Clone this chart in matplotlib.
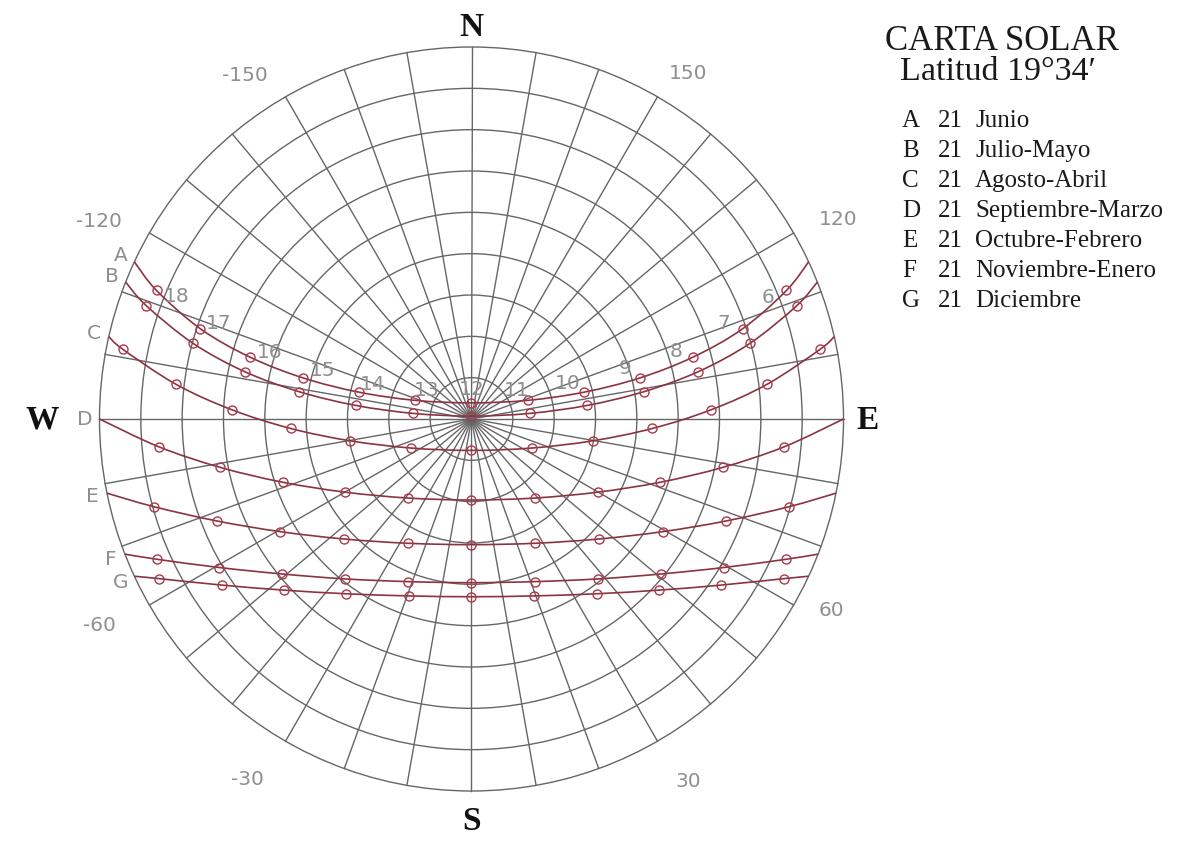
import numpy as np
import matplotlib
matplotlib.use("Agg")
import matplotlib.pyplot as plt
from matplotlib.path import Path
from matplotlib.patches import PathPatch, Circle

# ---------------- data (azimuth from south, + toward east; altitude in deg) -------------
hours = [6, 7, 8, 9, 10, 11, 12, 13, 14, 15, 16, 17, 18]
hours_short = [7, 8, 9, 10, 11, 12, 13, 14, 15, 16, 17]

curve_labels = ["A", "B", "C", "D", "E", "F", "G"]
legend_dates = ["Junio", "Julio-Mayo", "Agosto-Abril", "Septiembre-Marzo",
                "Octubre-Febrero", "Noviembre-Enero", "Diciembre"]

A_az = [112.2, 108.4, 105.6, 103.7, 103.4, 108.2, 180.0, -108.2, -103.4, -103.7, -105.6, -108.4, -112.2]
A_alt = [7.7, 20.9, 34.4, 48.1, 61.9, 75.5, 86.1, 75.5, 61.9, 48.1, 34.4, 20.9, 7.7]

B_az = [109.2, 105.2, 101.8, 99.0, 96.7, 95.5, 180.0, -95.5, -96.7, -99.0, -101.8, -105.2, -109.2]
B_alt = [6.7, 20.2, 33.9, 47.8, 61.8, 75.9, 89.3, 75.9, 61.8, 47.8, 33.9, 20.2, 6.7]

C_az = [101.3, 96.7, 92.2, 87.0, 79.8, 64.5, 0.0, -64.5, -79.8, -87.0, -92.2, -96.7, -101.3]
C_alt = [4.0, 18.0, 32.0, 46.2, 60.2, 73.7, 82.4, 73.7, 60.2, 46.2, 32.0, 18.0, 4.0]

D_az = [84.9, 79.1, 71.5, 59.9, 38.7, 0.0, -38.7, -59.9, -71.5, -79.1, -84.9]
D_alt = [14.1, 28.1, 41.8, 54.7, 65.5, 70.4, 65.5, 54.7, 41.8, 28.1, 14.1]

E_az = [74.6, 68.2, 59.5, 46.8, 27.2, 0.0, -27.2, -46.8, -59.5, -68.2, -74.6]
E_alt = [10.2, 23.6, 36.3, 47.6, 56.2, 59.6, 56.2, 47.6, 36.3, 23.6, 10.2]

F_az = [66.0, 59.5, 50.7, 38.3, 21.2, 0.0, -21.2, -38.3, -50.7, -59.5, -66.0]
F_alt = [6.6, 19.2, 30.8, 40.7, 47.8, 50.4, 47.8, 40.7, 30.8, 19.2, 6.6]

G_az = [62.9, 56.4, 47.6, 35.6, 19.5, 0.0, -19.5, -35.6, -47.6, -56.4, -62.9]
G_alt = [5.2, 17.4, 28.6, 38.0, 44.6, 47.0, 44.6, 38.0, 28.6, 17.4, 5.2]

# azimuth of sunrise (east) and sunset (west) on the horizon
sunrise_az = [115.0, 111.6, 102.8, 90.0, 78.5, 68.7, 65.0]
sunset_az = [-115.0, -111.6, -102.8, -90.0, -78.5, -68.7, -65.0]

ring_altitudes = [0, 10, 20, 30, 40, 50, 60, 70, 80]
radial_azimuths = list(range(0, 360, 10))
az_tick_labels = ["-150", "150", "-120", "120", "-60", "60", "-30", "30"]

curves_az = [A_az, B_az, C_az, D_az, E_az, F_az, G_az]
curves_alt = [A_alt, B_alt, C_alt, D_alt, E_alt, F_alt, G_alt]

# ---------------- figure / geometry ----------------
W, H = 1178, 852
fig = plt.figure(figsize=(W / 100, H / 100), dpi=100)
fig.patch.set_facecolor("white")
ax = fig.add_axes([0, 0, 1, 1])
cx_px, cy_px, R_px = 471.5, 419.0, 372.0
s = R_px / 90.0
ax.set_xlim(-cx_px / s, (W - cx_px) / s)
ax.set_ylim(-(H - cy_px) / s, cy_px / s)
ax.axis("off")


def proj(az, alt):
    a = np.radians(np.asarray(az, dtype=float))
    r = 90.0 - np.asarray(alt, dtype=float)
    return r * np.sin(a), -r * np.cos(a)


def polar_xy(az, r):
    a = np.radians(az)
    return r * np.sin(a), -r * np.cos(a)


def smooth_path(x, y):
    P = np.column_stack([x, y])
    n = len(P)
    verts = [P[0]]
    codes = [Path.MOVETO]
    for i in range(n - 1):
        p0 = P[i - 1] if i > 0 else P[i]
        p1 = P[i]
        p2 = P[i + 1]
        p3 = P[i + 2] if i + 2 < n else P[i + 1]
        verts += [p1 + (p2 - p0) / 6.0, p2 - (p3 - p1) / 6.0, p2]
        codes += [Path.CURVE4] * 3
    return Path(verts, codes)


grid_c = "#666666"
line_c = "#8a3442"
mark_c = "#a83a4a"
label_c = "#8f8f8f"

# grid rings
for alt in ring_altitudes:
    ax.add_patch(Circle((0, 0), 90 - alt, fill=False, ec=grid_c, lw=1.0, zorder=1))
# radial lines
for a in radial_azimuths:
    x, y = proj(a, 0)
    ax.plot([0, x], [0, y], color=grid_c, lw=1.0, zorder=1)

# sun paths
for i in range(7):
    hx, hy = proj(curves_az[i], curves_alt[i])
    rx, ry = proj(sunrise_az[i], 0)
    sx, sy = proj(sunset_az[i], 0)
    xs = np.concatenate([[rx], hx, [sx]])
    ys = np.concatenate([[ry], hy, [sy]])
    ax.add_patch(PathPatch(smooth_path(xs, ys), fill=False, ec=line_c, lw=1.2, zorder=3))
    ax.plot(hx, hy, "o", mfc="none", mec=mark_c, ms=6.5, mew=1.0, zorder=4)
    # curve letter at sunset
    lx, ly = polar_xy(sunset_az[i], 93.6)
    ax.text(lx, ly, curve_labels[i], ha="center", va="center", fontsize=14.5,
            color=label_c, family="DejaVu Sans", zorder=5)

# hour labels near curve A
hx, hy = proj(A_az, A_alt)
dx_off = [-18, -19, -17, -15, -17, -12, 0, 12, 14, 19, 19, 18, 20]
dy_off = [7, -5, -6, -9, -9, -10, -13, -10, -8, -7, -5, -5, 6]
for k, h in enumerate(hours):
    ax.annotate(str(h), (hx[k], hy[k]), xytext=(dx_off[k], -dy_off[k]),
                textcoords="offset pixels", ha="center", va="center",
                fontsize=14.5, color=label_c, family="DejaVu Sans", zorder=5)

# azimuth labels outside the horizon
lab_pos = [(-146.6, 99.6), (148.0, 98.7), (-118.0, 102.0), (118.5, 100.9),
           (-61.0, 103.0), (62.0, 98.5), (-31.8, 102.7), (30.8, 102.2)]
for t, (a, r) in zip(az_tick_labels, lab_pos):
    x, y = polar_xy(a, r)
    ax.text(x, y, t, ha="center", va="center", fontsize=14.5, color=label_c,
            family="DejaVu Sans")

# cardinal points
card_kw = dict(ha="center", va="center", fontsize=24, fontweight="bold",
               family=["Liberation Serif", "DejaVu Serif"], color="#111111")
ax.text(0, (cy_px - 27) / s, "N", **card_kw)
ax.text(0, -(822 - cy_px) / s, "S", **card_kw)
ax.text(-(cx_px - 42) / s, -1 / s, "W", **card_kw)
ax.text((868 - cx_px) / s, -1 / s, "E", **card_kw)

# title and legend (right)
serif = ["Liberation Serif", "DejaVu Serif"]
fig.text(885 / W, 1 - 50 / H, "CARTA SOLAR", fontsize=25, family=serif,
         color="#1a1a1a", va="baseline", ha="left")
fig.text(900 / W, 1 - 80 / H, "Latitud 19°34′", fontsize=24.5, family=serif,
         color="#1a1a1a", va="baseline", ha="left")
for i, (lab, date) in enumerate(zip(curve_labels, legend_dates)):
    yb = 1 - (127 + 30 * i) / H
    fig.text(902 / W, yb, lab, fontsize=18, family=serif, color="#1a1a1a", va="baseline")
    fig.text(938 / W, yb, "21", fontsize=18, family=serif, color="#1a1a1a", va="baseline")
    fig.text(975 / W, yb, date, fontsize=18, family=serif, color="#1a1a1a", va="baseline")

fig.savefig("out.png", dpi=100, facecolor="white")
